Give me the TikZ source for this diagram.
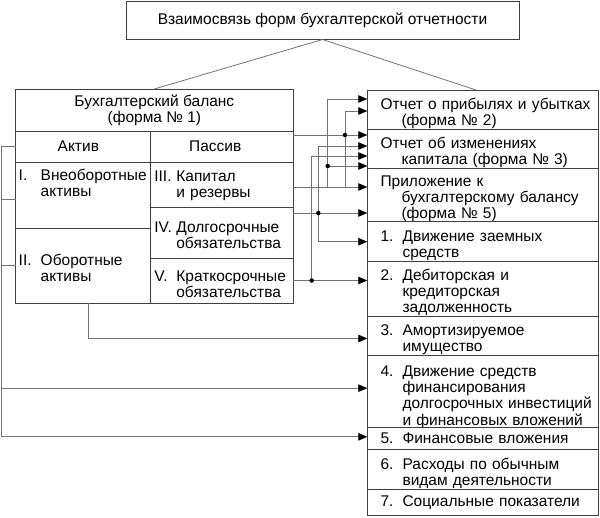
\documentclass[tikz,border=0pt]{standalone}
\usepackage{fontspec}
\setmainfont{Liberation Sans}
\usetikzlibrary{positioning,arrows.meta}

\newcommand{\rows}[1]{\begin{tabular}[t]{@{}l@{}}#1\end{tabular}}
\newcommand{\numtxt}[2]{\makebox[22pt][l]{#1}\rows{#2}}
\newcommand{\sunk}[2][4.5pt]{\raisebox{-#1}[\height][\depth]{#2}}

\begin{document}
\begin{tikzpicture}[x=1pt, y=1pt,
	cell/.style={rectangle, draw=black!75, line width=0.9pt, outer sep=0pt, inner sep=0pt, font=\fontsize{15.5}{16}\selectfont},
	row/.style={cell, minimum width=231.5pt, text width=205pt, align=left},
	link/.style={draw=black!55, line width=0.8pt},
	conn/.style={link, -{Triangle[length=9pt, width=7.5pt, color=black]}},
	dot/.style={circle, fill=black, inner sep=0pt, minimum size=4.5pt}
	]
	\useasboundingbox (0,0) rectangle (600,-517);

	\node (title) [cell, minimum width=393pt, minimum height=38pt] at (322.5,-20.5) {Взаимосвязь форм бухгалтерской отчетности};

	% balance sheet
	\node (baltitle) [cell, minimum width=277.3pt, minimum height=42pt, align=center] at (154.35,-110) {\sunk[1.5pt]{\rows{\hfil Бухгалтерский баланс\hfil\\\hfil(форма № 1)\hfil}}};
		\node (aktiv) [cell, minimum width=135pt, minimum height=31pt, text width=129pt, align=left, below=0pt of baltitle.south west, anchor=north west] {\hspace*{39pt}Актив};
		\node (passiv) [cell, minimum width=142.3pt, minimum height=31pt, text width=135.3pt, align=left, right=0pt of aktiv] {\hspace*{35pt}Пассив};
			\node (aktivI) [cell, minimum width=135pt, minimum height=66pt, below=0pt of aktiv] {};
			\node (aktivItxt) [cell, draw=none, anchor=north west] at ([xshift=3pt, yshift=-7pt]aktivI.north west) {\numtxt{I.}{Внеоборотные\\активы}};
			\node (aktivII) [cell, minimum width=135pt, minimum height=75pt, text width=129pt, align=left, below=0pt of aktivI] {\sunk{\numtxt{II.}{Оборотные\\активы}}};
			\node (passivIII) [cell, minimum width=142.3pt, minimum height=45pt, text width=135pt, align=left, below=0pt of passiv] {\sunk[2pt]{\numtxt{III.}{Капитал\\и резервы}}};
			\node (passivIV) [cell, minimum width=142.3pt, minimum height=51pt, text width=135pt, align=left, below=0pt of passivIII] {\sunk{\numtxt{IV.}{Долгосрочные\\обязательства}}};
			\node (passivV) [cell, minimum width=142.3pt, minimum height=45pt, text width=135pt, align=left, below=0pt of passivIV] {\sunk[5.5pt]{\numtxt{V.}{Краткосрочные\\обязательства}}};

	% other forms
	\node (otchet2) [row, minimum height=39pt] at (483.05,-109.5) {\sunk[5pt]{\rows{Отчет о прибылях и убытках\\\hspace*{21pt}(форма № 2)}}};
	\node (otchet3) [row, minimum height=39.3pt, below=0pt of otchet2] {\sunk{\rows{Отчет об изменениях\\\hspace*{21pt}капитала (форма № 3)}}};
	\node (prilozh) [row, minimum height=53.4pt, below=0pt of otchet3] {\sunk{\rows{Приложение к\\\hspace*{21pt}бухгалтерскому балансу\\\hspace*{21pt}(форма № 5)}}};
		\node (zaem) [row, minimum height=40pt, below=0pt of prilozh] {\sunk{\numtxt{1.}{Движение заемных\\средств}}};
		\node (debit) [row, minimum height=54.3pt, below=0pt of zaem] {\sunk{\numtxt{2.}{Дебиторская и\\кредиторская\\задолженность}}};
		\node (amort) [row, minimum height=39pt, below=0pt of debit] {\sunk{\numtxt{3.}{Амортизируемое\\имущество}}};
		\node (finans) [row, minimum height=72.3pt, below=0pt of amort] {\sunk[6.5pt]{\numtxt{4.}{Движение средств\\финансирования\\долгосрочных инвестиций\\и финансовых вложений}}};
		\node (vlozh) [row, minimum height=22pt, below=0pt of finans] {\sunk[1.5pt]{\numtxt{5.}{Финансовые вложения}}};
		\node (rashod) [row, minimum height=40pt, below=0pt of vlozh] {\sunk{\numtxt{6.}{Расходы по обычным\\видам деятельности}}};
		\node (social) [row, minimum height=26.5pt, below=0pt of rashod] {\sunk[1pt]{\numtxt{7.}{Социальные показатели}}};

	\draw [link] (title.south) -- (baltitle.north);
	\draw [link] (title.south) -- ([xshift=-7pt]otchet2.north);

	% levels on the right side of the balance
	\coordinate (hdr) at ([yshift=-4pt]passiv.north east);
	\coordinate (kap) at ([yshift=-2.5pt]passivIII.east);
	\coordinate (dolg) at ([yshift=-6pt]passivIV.north east);
	\coordinate (krat) at (passivV.east);
	\coordinate (t2a) at ([yshift=-9pt]otchet2.north west);
	\coordinate (t2b) at ([yshift=-21pt]otchet2.north west);
	\coordinate (t3b) at ([yshift=-17pt]otchet3.north west);
	\coordinate (t3c) at ([yshift=-27pt]otchet3.north west);
	\coordinate (t3d) at ([yshift=-37pt]otchet3.north west);
	\coordinate (b1) at ([xshift=52pt]hdr);
	\coordinate (b2) at ([xshift=34.7pt]kap);
	\coordinate (b3) at ([xshift=25.3pt]dolg);
	\coordinate (b4) at ([xshift=18.7pt]krat);

	\draw [conn] (hdr) -- (hdr -| otchet3.west);
	\draw [conn] (b1 |- kap) |- (t2b);
	\draw [conn] (kap) -- (kap -| prilozh.west);
	\draw [conn] (b2) |- (t2a);
	\draw [conn] (b2 |- t3d) -- (t3d);
	\draw [conn] (dolg) -- (dolg -| prilozh.west);
	\draw [conn] (b3) |- (t3b);
	\draw [conn] (b3) |- (zaem.west);
	\draw [conn] (krat) -- (krat -| debit.west);
	\draw [conn] (b4) |- (t3c);

	\node (j1) [dot] at (b1) {};
	\node (j2) [dot] at (b2 |- t3d) {};
	\node (j3) [dot] at (b3) {};
	\node (j4) [dot] at (b4) {};

	% left side of the balance
	\coordinate (rail) at ([xshift=-14.5pt]aktiv.west);
	\coordinate (vneob) at ([yshift=-4pt]aktivI.west);
	\draw [conn] (aktiv.west) -- (rail) |- ([yshift=3pt]finans.west);
	\draw [conn] (rail) |- ([yshift=1.5pt]vlozh.west);
	\draw [link] (vneob) -- (vneob -| rail);
	\draw [link] (aktivII.west) -- (aktivII.west -| rail);

	\coordinate (amsrc) at ([xshift=5pt]aktivII.south);
	\draw [conn] (amsrc) |- ([yshift=-3pt]amort.west);

\end{tikzpicture}
\end{document}
